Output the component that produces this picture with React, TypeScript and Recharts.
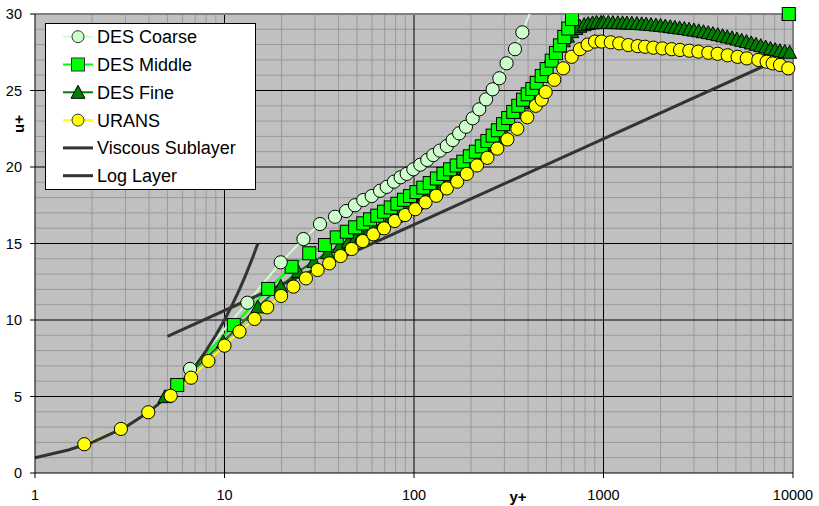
import React from 'react';
import { LineChart, Line, XAxis, YAxis, CartesianGrid } from 'recharts';

type P = { x: number; u: number };
const toPts = (a: number[][]): P[] => a.map(([x, u]) => ({ x, u }));

// ---- data (y+, u+) ----
const desCoarse = [
  [6.58, 6.8], [13.2, 11.13], [19.8, 13.77], [26.1, 15.29], [31.9, 16.27], [38.3, 16.75],
  [43.8, 17.12], [48.8, 17.5], [54, 17.84], [59.8, 18.1], [66.2, 18.45], [71.8, 18.7],
  [78.4, 19.04], [85, 19.33], [91.5, 19.55], [99.2, 19.85], [108, 20.15], [117.5, 20.46],
  [126.4, 20.78], [137, 21.07], [149, 21.37], [160, 21.76], [173, 22.2], [188, 22.63],
  [204, 23.18], [221, 23.77], [240, 24.42], [260, 25.08], [282, 25.8], [308, 26.78],
  [341, 27.7], [373, 28.8], [425, 30.6],
];

const desMiddle = [
  [5.63, 5.75], [11.2, 9.67], [17.0, 12.03], [22.6, 13.48], [28.0, 14.36], [33.9, 14.9],
  [39.1, 15.4], [44.2, 15.77], [48.9, 16.06], [54, 16.32], [58.6, 16.58], [64, 16.82],
  [69.5, 17.08], [75.4, 17.36], [81.7, 17.6], [88.5, 17.86], [95.3, 18.1], [103, 18.36],
  [112, 18.65], [121, 18.95], [132, 19.25], [143, 19.55], [155, 19.85], [168, 20.1],
  [182, 20.35], [197, 20.7], [212, 21.0], [228, 21.35], [244, 21.7], [260, 22.05],
  [277, 22.4], [295, 22.8], [314, 23.2], [334, 23.6], [355, 24.0], [376, 24.4],
  [398, 24.75], [421, 25.1], [444, 25.5], [472, 25.95], [501, 26.4], [533, 26.95],
  [561, 27.45], [589, 27.95], [621, 28.5], [652, 29.05], [682, 29.67], [760, 31.2],
  [3000, 31.75], [9500, 30.0],
];
const desMiddleEdge = [[9500, 30.0]];

const desFine = [
  [4.85, 4.99], [9.86, 8.58], [15, 10.85], [19.8, 12.2], [24.5, 13.16], [29.6, 13.83],
  [35, 14.4], [40.3, 14.79], [45, 15.1], [49, 15.33], [53, 15.55], [57.5, 15.78],
  [62.5, 16.0], [68, 16.25], [74, 16.52], [80, 16.78], [87, 17.05], [94.5, 17.32],
  [102.5, 17.6], [111, 17.88], [120.5, 18.18], [131, 18.5], [142, 18.82], [154, 19.15],
  [167, 19.5], [181, 19.88], [196, 20.25], [213, 20.65], [231, 21.05], [250, 21.45],
  [271, 21.9], [294, 22.4], [318, 22.95], [345, 23.55], [374, 24.2], [405, 24.85],
  [435, 25.45], [465, 26.0], [495, 26.55], [525, 27.05], [555, 27.5], [585, 27.9],
  [615, 28.25], [645, 28.55], [680, 28.85], [715, 29.05], [750, 29.2], [790, 29.3],
  [830, 29.37], [875, 29.42], [920, 29.45], [970, 29.45], [1000, 29.45], [1060, 29.45],
  [1120, 29.44], [1190, 29.43], [1260, 29.42], [1330, 29.41], [1410, 29.4], [1500, 29.38],
  [1590, 29.36], [1680, 29.34], [1780, 29.31], [1890, 29.28], [2000, 29.25], [2120, 29.21],
  [2250, 29.17], [2380, 29.13], [2520, 29.09], [2670, 29.05], [2830, 29.0], [3000, 28.95],
  [3180, 28.9], [3370, 28.84], [3570, 28.78], [3780, 28.72], [4010, 28.65], [4250, 28.58],
  [4500, 28.51], [4770, 28.44], [5060, 28.36], [5360, 28.28], [5680, 28.2], [6020, 28.11],
  [6380, 28.02], [6760, 27.93], [7170, 27.84], [7600, 27.75], [8050, 27.67], [8530, 27.6],
  [9050, 27.55], [9600, 27.5],
];

const urans = [
  [1.82, 1.88], [2.84, 2.88], [3.96, 3.97], [5.2, 5.05], [6.66, 6.23], [8.22, 7.32],
  [10.0, 8.32], [12.0, 9.24], [14.4, 10.07], [16.8, 10.83], [19.9, 11.57], [23.1, 12.18],
  [26.9, 12.72], [31.0, 13.27], [35.7, 13.7], [41.0, 14.18], [46.9, 14.64], [53.6, 15.16],
  [61.0, 15.6], [69.5, 15.99], [79.1, 16.47], [89.7, 16.86], [101.6, 17.24], [115, 17.69],
  [131, 18.12], [149, 18.6], [169, 19.04], [190, 19.55], [215, 20.1], [244, 20.6],
  [275, 21.2], [311, 21.8], [351, 22.5], [396, 23.25], [439, 24.0], [472, 24.4],
  [495, 24.9], [550, 25.7], [613, 26.45], [679, 27.2], [751, 27.7], [825, 28.0],
  [902, 28.2], [977, 28.2], [1092, 28.15], [1211, 28.08], [1352, 27.97], [1514, 27.9],
  [1656, 27.86], [1832, 27.8], [2044, 27.75], [2290, 27.7], [2535, 27.65], [2838, 27.6],
  [3165, 27.54], [3573, 27.47], [4000, 27.4], [4520, 27.3], [5100, 27.2], [5700, 27.1],
  [6560, 27.0], [7260, 26.88], [7810, 26.77], [8540, 26.67], [9440, 26.45],
];

const viscous = [
  [1, 1], [1.5, 1.5], [2, 2], [3, 3], [4, 4], [5, 5], [6, 6], [7, 7], [8, 8], [9, 9],
  [10, 10], [11, 11], [12, 12], [13, 13], [14, 14], [15, 15],
];
const logLayer = [[5, 8.93], [7000, 26.59]];

const xTicks = [1, 10, 100, 1000, 10000];
const yTicks = [0, 5, 10, 15, 20, 25, 30];
const xMajor = [10, 100, 1000];
const yMajor = [5, 10, 15, 20, 25];
const xMinor = [
  2, 3, 4, 5, 6, 7, 8, 9, 20, 30, 40, 50, 60, 70, 80, 90,
  200, 300, 400, 500, 600, 700, 800, 900, 2000, 3000, 4000, 5000, 6000, 7000, 8000, 9000,
];
const yMinor = [1, 2, 3, 4, 6, 7, 8, 9, 11, 12, 13, 14, 16, 17, 18, 19, 21, 22, 23, 24, 26, 27, 28, 29];

const legendItems = ['DES Coarse', 'DES Middle', 'DES Fine', 'URANS', 'Viscous Sublayer', 'Log Layer'];

const C_COARSE = '#CCFFCC';
const C_MIDDLE = '#00FF00';
const C_FINE = '#008000';
const C_URANS = '#FFFF00';
const C_THEORY = '#333333';
const FONT = '"Liberation Sans", Arial, sans-serif';

const ok = (v: any) => typeof v === 'number' && Number.isFinite(v);

const circleDot = (fill: string) => (p: any) => {
  const { cx, cy, index } = p;
  if (!ok(cx) || !ok(cy)) return <g key={`e${index}`} />;
  return <circle key={`c${index}`} cx={cx} cy={cy} r={6.6} fill={fill} stroke="#000" strokeWidth={1} />;
};
const squareDot = (fill: string) => (p: any) => {
  const { cx, cy, index } = p;
  if (!ok(cx) || !ok(cy)) return <g key={`e${index}`} />;
  return <rect key={`s${index}`} x={cx - 6.5} y={cy - 6.5} width={13} height={13} fill={fill} stroke="#000" strokeWidth={1} />;
};
const triDot = (fill: string) => (p: any) => {
  const { cx, cy, index } = p;
  if (!ok(cx) || !ok(cy)) return <g key={`e${index}`} />;
  return (
    <polygon key={`t${index}`} points={`${cx},${cy - 7} ${cx - 7},${cy + 6} ${cx + 7},${cy + 6}`}
      fill={fill} stroke="#000" strokeWidth={1} strokeLinejoin="miter" />
  );
};

const LegendMarker = ({ i, cx, cy }: { i: number; cx: number; cy: number }) => {
  if (i === 0) return <circle cx={cx} cy={cy} r={6} fill={C_COARSE} stroke="#333" strokeWidth={1} />;
  if (i === 1) return <rect x={cx - 6.5} y={cy - 6.5} width={13} height={13} fill={C_MIDDLE} stroke="#333" strokeWidth={1} />;
  if (i === 2) return <polygon points={`${cx},${cy - 7} ${cx - 7},${cy + 6} ${cx + 7},${cy + 6}`} fill={C_FINE} stroke="#000" strokeWidth={1} />;
  if (i === 3) return <circle cx={cx} cy={cy} r={6} fill={C_URANS} stroke="#333" strokeWidth={1} />;
  return null;
};
const legendLineColor = [C_COARSE, C_MIDDLE, C_FINE, C_URANS, C_THEORY, C_THEORY];

export default function App() {
  const common = { isAnimationActive: false, activeDot: false as const, legendType: 'none' as const, dataKey: 'u', type: 'linear' as const };
  return (
    <div style={{ position: 'absolute', left: 0, top: 0, width: 819, height: 506, background: '#fff', fontFamily: FONT }}>
      <LineChart width={819} height={506} margin={{ top: 14, right: 26, bottom: 0, left: 0 }} style={{ fontFamily: FONT }}>
        <CartesianGrid fill="#C0C0C0" stroke="#999999" strokeWidth={1} horizontalValues={yMinor} verticalValues={xMinor} />
        <CartesianGrid stroke="#000000" strokeWidth={1} horizontalValues={yMajor} verticalValues={xMajor} />
        <CartesianGrid stroke="#808080" strokeWidth={2} horizontalValues={[30]} verticalValues={[10000]} />
        <XAxis type="number" dataKey="x" scale="log" domain={[1, 10000]} ticks={xTicks} interval={0}
          height={33} tickSize={5} tickMargin={12} axisLine={{ stroke: '#000' }} tickLine={{ stroke: '#000' }}
          tick={{ fill: '#000', fontSize: 14.5, fontFamily: FONT }} />
        <YAxis type="number" domain={[0, 30]} ticks={yTicks} interval={0} width={35} tickSize={5} tickMargin={8}
          axisLine={{ stroke: '#000' }} tickLine={{ stroke: '#000' }}
          tick={{ fill: '#000', fontSize: 14.5, fontFamily: FONT }} />
        <YAxis yAxisId="clip" hide type="number" domain={[0, 30]} allowDataOverflow />

        {/* lines */}
        <Line {...common} data={toPts(desFine)} stroke={C_FINE} strokeWidth={2} dot={false} />
        <Line {...common} yAxisId="clip" data={toPts(desMiddle)} stroke={C_MIDDLE} strokeWidth={2} dot={false} />
        <Line {...common} yAxisId="clip" data={toPts(desCoarse)} stroke={C_COARSE} strokeWidth={2} dot={false} />
        <Line {...common} data={toPts(urans)} stroke={C_URANS} strokeWidth={2} dot={false} />
        <Line {...common} data={toPts(viscous)} stroke={C_THEORY} strokeWidth={3} dot={false} />
        <Line {...common} data={toPts(logLayer)} stroke={C_THEORY} strokeWidth={3} dot={false} />

        {/* markers */}
        <Line {...common} data={toPts(desFine)} stroke="none" dot={triDot(C_FINE)} />
        <Line {...common} yAxisId="clip" data={toPts(desMiddle)} stroke="none" dot={squareDot(C_MIDDLE)} />
        <Line {...common} data={toPts(desMiddleEdge)} stroke="none" dot={squareDot(C_MIDDLE)} />
        <Line {...common} yAxisId="clip" data={toPts(desCoarse)} stroke="none" dot={circleDot(C_COARSE)} />
        <Line {...common} data={toPts(urans)} stroke="none" dot={circleDot(C_URANS)} />
      </LineChart>

      <svg width={819} height={506} style={{ position: 'absolute', left: 0, top: 0, pointerEvents: 'none' }}>
        <rect x={45.5} y={23.5} width={210} height={166} fill="#fff" stroke="#000" strokeWidth={1} />
        {legendItems.map((name, i) => {
          const cy = 36.7 + 27.8 * i;
          return (
            <g key={name}>
              <line x1={63} x2={93} y1={cy} y2={cy} stroke={legendLineColor[i]} strokeWidth={i >= 4 ? 3 : 2} />
              <LegendMarker i={i} cx={78} cy={cy} />
              <text x={97} y={cy + 6.4} fontSize={18} fontFamily={FONT} fill="#000">{name}</text>
            </g>
          );
        })}
        <text x={24} y={124} fontSize={15} fontWeight="bold" fontFamily={FONT} textAnchor="middle"
          transform="rotate(-90 24 124)" fill="#000">u+</text>
        <text x={518} y={501.5} fontSize={15} fontWeight="bold" fontFamily={FONT} textAnchor="middle" fill="#000">y+</text>
      </svg>
    </div>
  );
}
